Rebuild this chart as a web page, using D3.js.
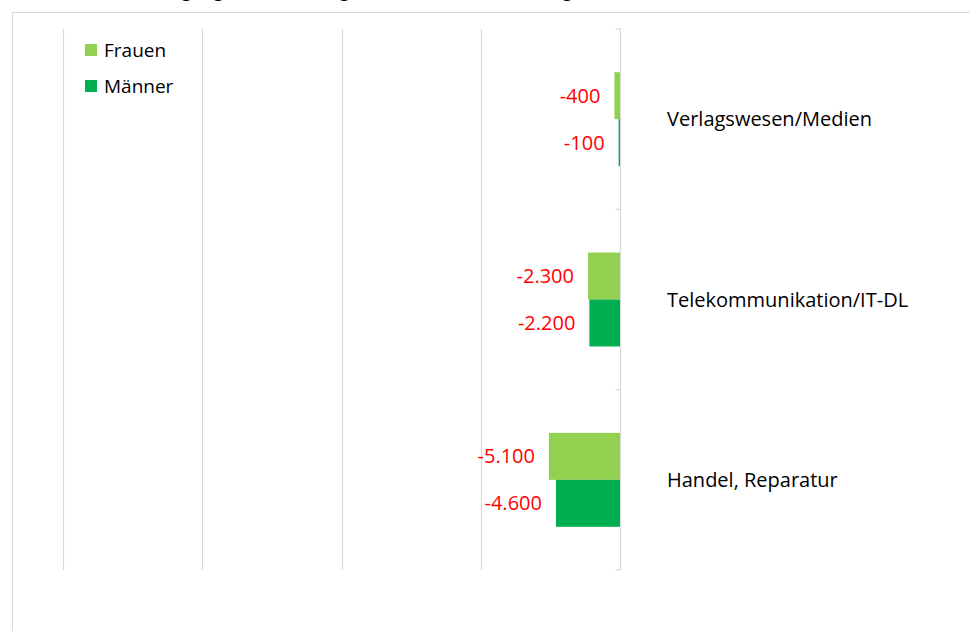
<!DOCTYPE html>
<html>
<head>
<meta charset="utf-8">
<script src="https://cdn.jsdelivr.net/npm/d3@7"></script>
<style>
  body { margin: 0; background: #fff; }
  text { font-family: "Open Sans", "Noto Sans", sans-serif; }
</style>
</head>
<body>
<script>
// Branchen, von oben nach unten
var categories = ["Verlagswesen/Medien", "Telekommunikation/IT-DL", "Handel, Reparatur"];
var seriesNames = ["Frauen", "Männer"];
var frauen = [-400, -2300, -5100];
var maenner = [-100, -2200, -4600];
var tickValues = [-40000, -30000, -20000, -10000, 0];
var colors = ["#92D050", "#00B050"];

var width = 970, height = 631;

var svg = d3.select("body").append("svg")
    .attr("width", width)
    .attr("height", height);

// title, mostly cut off above the picture
svg.append("text")
    .attr("x", 420)
    .attr("y", -3)
    .attr("text-anchor", "middle")
    .style("font-size", "18px")
    .text("Beschäftigungsabbau in ausgewählten Wirtschaftszweigen nach Geschlecht");

// chart frame
svg.append("rect")
    .attr("x", 12.5).attr("y", 12.5)
    .attr("width", 1000).attr("height", 700)
    .style("fill", "none")
    .style("stroke", "#d9d9d9");

var plotTop = 29, plotBottom = 570;

var x = d3.scaleLinear().domain([-40000, 0]).range([63, 620]);
var y = d3.scaleBand().domain(categories).range([plotTop, plotBottom]).paddingInner(0).paddingOuter(0);
var inner = d3.scaleBand().domain(seriesNames).range([0, y.bandwidth()]).paddingOuter(0.92).paddingInner(0);

// gridlines
svg.selectAll("line.grid")
    .data(tickValues.slice(0, -1))
    .enter().append("line")
    .attr("class", "grid")
    .attr("x1", function (d) { return Math.round(x(d)) + 0.5; })
    .attr("x2", function (d) { return Math.round(x(d)) + 0.5; })
    .attr("y1", plotTop).attr("y2", plotBottom)
    .style("stroke", "#d9d9d9")
    .style("stroke-width", 1.2);

// category axis at zero
var axisG = svg.append("g")
    .attr("transform", "translate(" + (Math.round(x(0)) + 0.5) + ",0)");
axisG.append("line")
    .attr("y1", plotTop).attr("y2", plotBottom)
    .style("stroke", "#d9d9d9").style("stroke-width", 1.2);
axisG.selectAll("line.tk")
    .data(categories.map(function (c) { return y(c); }).concat([plotBottom]))
    .enter().append("line")
    .attr("class", "tk")
    .attr("x1", -5).attr("x2", 0)
    .attr("y1", function (d) { return d; })
    .attr("y2", function (d) { return d; })
    .style("stroke", "#d9d9d9").style("stroke-width", 1.2);

var rows = [];
categories.forEach(function (c, i) {
  rows.push({ cat: c, s: "Frauen", v: frauen[i], col: colors[0] });
  rows.push({ cat: c, s: "Männer", v: maenner[i], col: colors[1] });
});

svg.selectAll("rect.bar")
    .data(rows)
    .enter().append("rect")
    .attr("class", "bar")
    .attr("x", function (d) { return x(d.v); })
    .attr("y", function (d) { return y(d.cat) + inner(d.s); })
    .attr("width", function (d) { return x(0) - x(d.v); })
    .attr("height", inner.bandwidth())
    .style("fill", function (d) { return d.col; });

var fmt = d3.formatLocale({ decimal: ",", thousands: ".", grouping: [3], currency: ["", "€"], minus: "-" }).format(",d");

svg.selectAll("text.lbl")
    .data(rows)
    .enter().append("text")
    .attr("class", "lbl")
    .attr("x", function (d) { return x(d.v) - 14; })
    .attr("y", function (d) { return y(d.cat) + inner(d.s) + inner.bandwidth() / 2; })
    .attr("dy", "0.35em")
    .attr("text-anchor", "end")
    .style("font-size", "20px")
    .style("fill", "#FF0000")
    .text(function (d) { return fmt(d.v); });

// category labels on the right
svg.selectAll("text.cat")
    .data(categories)
    .enter().append("text")
    .attr("class", "cat")
    .attr("x", 667)
    .attr("y", function (d) { return y(d) + y.bandwidth() / 2; })
    .attr("dy", "0.35em")
    .style("font-size", "20px")
    .style("fill", "#000")
    .text(function (d) { return d; });

// legend
var leg = svg.selectAll("g.leg")
    .data(seriesNames)
    .enter().append("g")
    .attr("class", "leg")
    .attr("transform", function (d, i) { return "translate(85," + (44 + i * 36) + ")"; });
leg.append("rect")
    .attr("width", 12).attr("height", 12)
    .style("fill", function (d, i) { return colors[i]; });
leg.append("text")
    .attr("x", 19).attr("y", 6)
    .attr("dy", "0.35em")
    .style("font-size", "19px")
    .text(function (d) { return d; });
</script>
</body>
</html>
